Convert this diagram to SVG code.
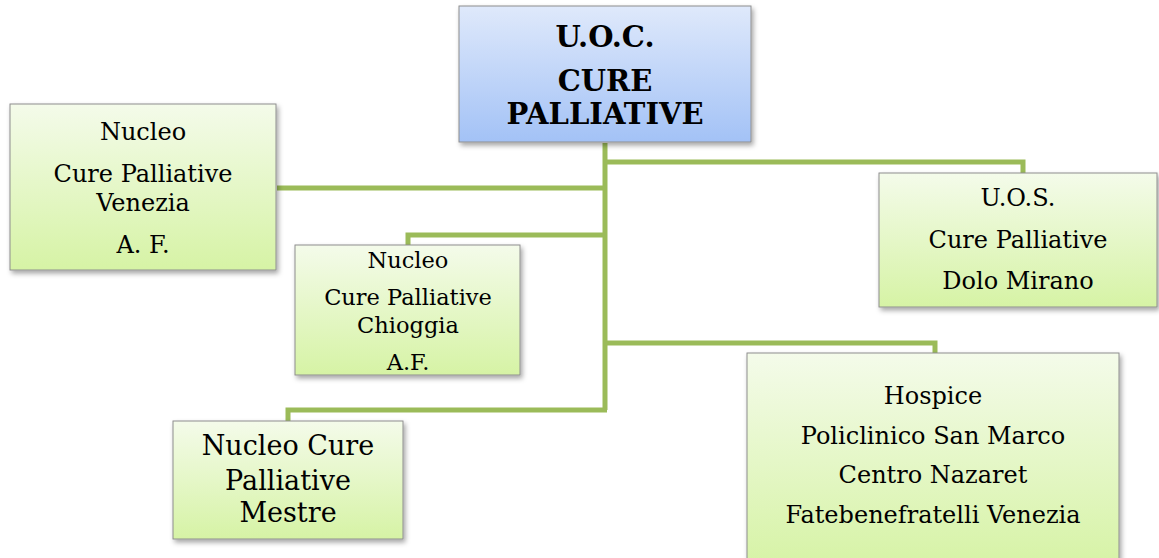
<svg xmlns="http://www.w3.org/2000/svg" width="1159" height="558" viewBox="0 0 1159 558">
<defs>
<linearGradient id="gGreen" x1="0" y1="0" x2="0" y2="1">
<stop offset="0" stop-color="#f4fbea"/>
<stop offset="1" stop-color="#d6f3a5"/>
</linearGradient>
<linearGradient id="gBlue" x1="0" y1="0" x2="0" y2="1">
<stop offset="0" stop-color="#dfe9fb"/>
<stop offset="1" stop-color="#a3c2f6"/>
</linearGradient>
<filter id="sh" x="-10%" y="-10%" width="125%" height="130%">
<feDropShadow dx="2" dy="3" stdDeviation="2.5" flood-color="#000" flood-opacity="0.35"/>
</filter>
</defs>
<style>
.box{fill:url(#gGreen);stroke:#8e8e8e;stroke-width:1;filter:url(#sh)}
.top{fill:url(#gBlue);stroke:#8e8e8e;stroke-width:1;filter:url(#sh)}
.conn{fill:none;stroke:#9bbb59;stroke-width:5}
text{font-family:"DejaVu Serif","Liberation Serif",serif;fill:#000;text-anchor:middle}
.t{font-size:29px;font-weight:bold}
.n{font-size:24px}
.s{font-size:22.5px}
.m{font-size:27px}
</style>
<g id="connectors">
<path class="conn" d="M605,143 V410"/>
<path class="conn" d="M605,162 H1023 V175"/>
<path class="conn" d="M277,188 H605"/>
<path class="conn" d="M605,235 H408 V246"/>
<path class="conn" d="M605,343 H935 V354"/>
<path class="conn" d="M607,410 H288 V422"/>
</g>
<g id="uoc">
<rect class="top" x="459" y="6" width="292" height="136"/>
<text class="t" x="605" y="47">U.O.C.</text>
<text class="t" x="605" y="91">CURE</text>
<text class="t" x="605" y="124">PALLIATIVE</text>
</g>
<g id="venezia">
<rect class="box" x="10" y="104" width="266" height="166"/>
<text class="n" x="143" y="140">Nucleo</text>
<text class="n" x="143" y="182">Cure Palliative</text>
<text class="n" x="143" y="211">Venezia</text>
<text class="n" x="143" y="253">A. F.</text>
</g>
<g id="chioggia">
<rect class="box" x="295" y="245" width="225" height="130"/>
<text class="s" x="408" y="268">Nucleo</text>
<text class="s" x="408" y="305">Cure Palliative</text>
<text class="s" x="408" y="333">Chioggia</text>
<text class="s" x="408" y="370">A.F.</text>
</g>
<g id="mestre">
<rect class="box" x="173" y="421" width="230" height="118"/>
<text class="m" x="288" y="455">Nucleo Cure</text>
<text class="m" x="288" y="490">Palliative</text>
<text class="m" x="288" y="522">Mestre</text>
</g>
<g id="uos">
<rect class="box" x="879" y="173" width="278" height="134"/>
<text class="n" x="1018" y="206">U.O.S.</text>
<text class="n" x="1018" y="248">Cure Palliative</text>
<text class="n" x="1018" y="289">Dolo Mirano</text>
</g>
<g id="hospice">
<rect class="box" x="747" y="353" width="372" height="215"/>
<text class="n" x="933" y="404">Hospice</text>
<text class="n" x="933" y="444">Policlinico San Marco</text>
<text class="n" x="933" y="483">Centro Nazaret</text>
<text class="n" x="933" y="523">Fatebenefratelli Venezia</text>
</g>
</svg>
